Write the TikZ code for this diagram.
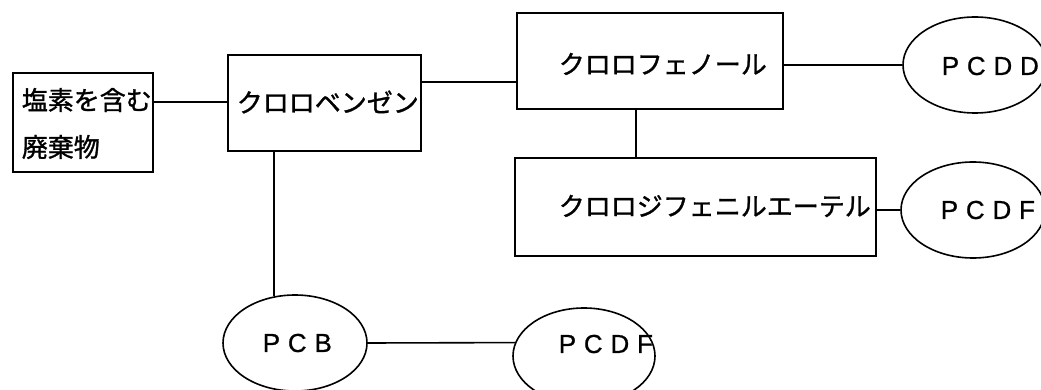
\documentclass[tikz,border=0pt]{standalone}
\usepackage{fontspec}
\setmainfont{Noto Sans CJK JP}[BoldFont=Noto Sans CJK JP, BoldFeatures={FakeBold=1.2}]
\newfontfamily\latinfont{Liberation Sans}[LetterSpace=30, BoldFont=Liberation Sans, BoldFeatures={FakeBold=0.8}]
\usetikzlibrary{shapes.geometric}
\begin{document}
\begin{tikzpicture}[x=1pt,y=-1pt,
  line width=1.6pt,
  every node/.style={font=\fontsize{26}{30}\selectfont\bfseries},
  box/.style={draw, rectangle, inner sep=0pt},
  blob/.style={draw, ellipse, inner sep=0pt, minimum width=144, minimum height=96},
  txt/.style={inner sep=0pt},
  abbr/.style={inner sep=0pt, font=\fontsize{26}{30}\latinfont\bfseries},
  link/.style={line width=1.6pt}]
\useasboundingbox (0,0) rectangle (1041,390);

% boxes
\node[box, minimum width=140, minimum height=99] (waste) at (83,122.5) {};
\node[box, minimum width=193, minimum height=96] (benz)  at (324.5,103) {};
\node[box, minimum width=266, minimum height=96] (phen)  at (650,61) {};
\node[box, minimum width=361, minimum height=98] (ether) at (695.5,207) {};

% ellipses
\node[blob] (pcdd)  at (975,65) {};
\node[blob] (pcdfa) at (973,210) {};
\node[blob] (pcb)   at (295,343) {};
\node[blob, minimum width=142] (pcdfb) at (584,356) {};

% labels
\node[txt, anchor=west] (wasteA) at (21,100) {塩素を含む};
\node[txt, anchor=west] (wasteB) at (21,147) {廃棄物};
\node[txt, anchor=west] (benzT)  at (236,102) {クロロベンゼン};
\node[txt, anchor=west] (phenT)  at (558,64) {クロロフェノール};
\node[txt, anchor=west] (etherT) at (558,206) {クロロジフェニルエーテル};
\node[abbr, anchor=west] (pcddT)  at (941,66)  {PCDD};
\node[abbr, anchor=west] (pcdfaT) at (940,210) {PCDF};
\node[abbr, anchor=west] (pcbT)   at (262,343) {PCB};
\node[abbr, anchor=west] (pcdfbT) at (558,344) {PCDF};

% connectors
\coordinate (jbp) at (470,82);
\draw[link] (waste.east |- benzT.west) -- (benz.west |- benzT.west);
\draw[link] (benz.east |- jbp) -- (phen.west |- jbp);
\draw[link] (phen.east |- pcdd.west) -- (pcdd.west);
\draw[link] ([xshift=-14pt]phen.south) -- ([xshift=-14pt]phen.south |- ether.north);
\draw[link] (ether.east |- pcdfa.180) -- (pcdfa.180);
\draw[link] (benz.south -| pcb.114.5) -- (pcb.114.5);
\draw[link] (pcb.east) -- (pcdfb.169);
\end{tikzpicture}
\end{document}
